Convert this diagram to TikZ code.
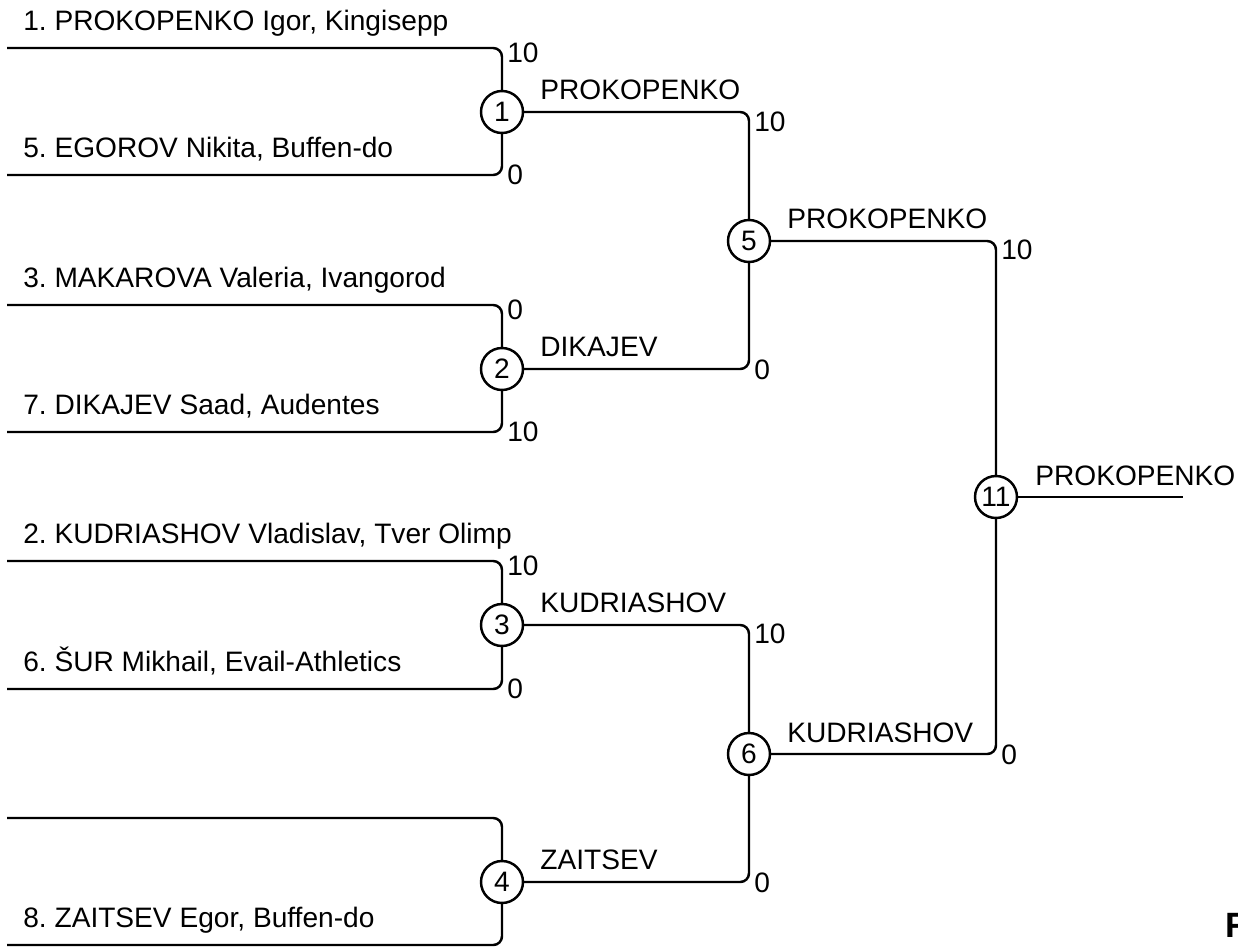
\documentclass[tikz,border=0pt]{standalone}
\usepackage{fontspec}
\setmainfont{Liberation Sans}
\usepackage{tikz}
\usetikzlibrary{positioning, calc}
\frenchspacing

\begin{document}
\begin{tikzpicture}[
  x=0.02cm, y=-0.02cm,
  match/.style={
    circle, draw, line width=1.4pt, fill=white, inner sep=0pt,
    minimum size=0.84cm, font=\fontsize{16}{19}\selectfont
  },
  player/.style={anchor=base west, inner sep=0pt, font=\fontsize{16}{19}\selectfont},
  winner/.style={anchor=base west, inner sep=0pt, font=\fontsize{16}{19}\selectfont},
  score/.style={anchor=base west, inner sep=0pt, font=\fontsize{16}{19}\selectfont},
  line/.style={line width=1.4pt, rounded corners=5pt},
]
\useasboundingbox (0,0) rectangle (1238,947);

% Matches
\node[match] (m1) at (502,112) {1};
\node[match] (m2) at (502,369) {2};
\node[match] (m3) at (502,625) {3};
\node[match] (m4) at (502,882) {4};
\node[match] (m5) at (749,241) {5};
\node[match] (m6) at (749,754) {6};
\node[match] (m11) at (996,497) {11};

% Line starts
\coordinate (p1) at (7,48);
\coordinate (p5) at (7,175);
\coordinate (p3) at (7,305);
\coordinate (p7) at (7,432);
\coordinate (p2) at (7,561);
\coordinate (p6) at (7,689);
\coordinate (pb) at (7,818);
\coordinate (p8) at (7,945);
\coordinate (fin) at (1183,497);

% Players
\node[player] (n1) at (23,30) {1. PROKOPENKO Igor, Kingisepp};
\node[player] (n5) at (23,157) {5. EGOROV Nikita, Buffen-do};
\node[player] (n3) at (23,287) {3. MAKAROVA Valeria, Ivangorod};
\node[player] (n7) at (23,414) {7. DIKAJEV Saad, Audentes};
\node[player] (n2) at (23,543) {2. KUDRIASHOV Vladislav, Tver Olimp};
\node[player] (n6) at (23,671) {6. ŠUR Mikhail, Evail-Athletics};
\node[player] (n8) at (23,927) {8. ZAITSEV Egor, Buffen-do};

% Winners
\node[winner] (w1) at (540,99) {PROKOPENKO};
\node[winner] (w2) at (540,356) {DIKAJEV};
\node[winner] (w3) at (540,612) {KUDRIASHOV};
\node[winner] (w4) at (540,869) {ZAITSEV};
\node[winner] (w5) at (787,228) {PROKOPENKO};
\node[winner] (w6) at (787,742) {KUDRIASHOV};
\node[winner] (w11) at (1035,485) {PROKOPENKO};

% Scores
\node[score] (s1a) at (507,62) {10};
\node[score] (s1b) at (507,184) {0};
\node[score] (s2a) at (507,319) {0};
\node[score] (s2b) at (507,441) {10};
\node[score] (s3a) at (507,575) {10};
\node[score] (s3b) at (507,698) {0};
\node[score] (s5a) at (754,131) {10};
\node[score] (s5b) at (754,379) {0};
\node[score] (s6a) at (754,643) {10};
\node[score] (s6b) at (754,892) {0};
\node[score] (s11a) at (1001,259) {10};
\node[score] (s11b) at (1001,764) {0};

% First round
\draw[line] (p1) -| (m1);
\draw[line] (p5) -| (m1);
\draw[line] (p3) -| (m2);
\draw[line] (p7) -| (m2);
\draw[line] (p2) -| (m3);
\draw[line] (p6) -| (m3);
\draw[line] (pb) -| (m4);
\draw[line] (p8) -| (m4);

% Semi finals
\draw[line] (m1) -| (m5);
\draw[line] (m2) -| (m5);
\draw[line] (m3) -| (m6);
\draw[line] (m4) -| (m6);

% Final
\draw[line] (m5) -| (m11);
\draw[line] (m6) -| (m11);
\draw[line] (m11) -- (fin);

\node[anchor=base west, inner sep=0pt, font=\fontsize{20}{24}\selectfont\bfseries] (rr) at (1225,937) {R};
\end{tikzpicture}
\end{document}
